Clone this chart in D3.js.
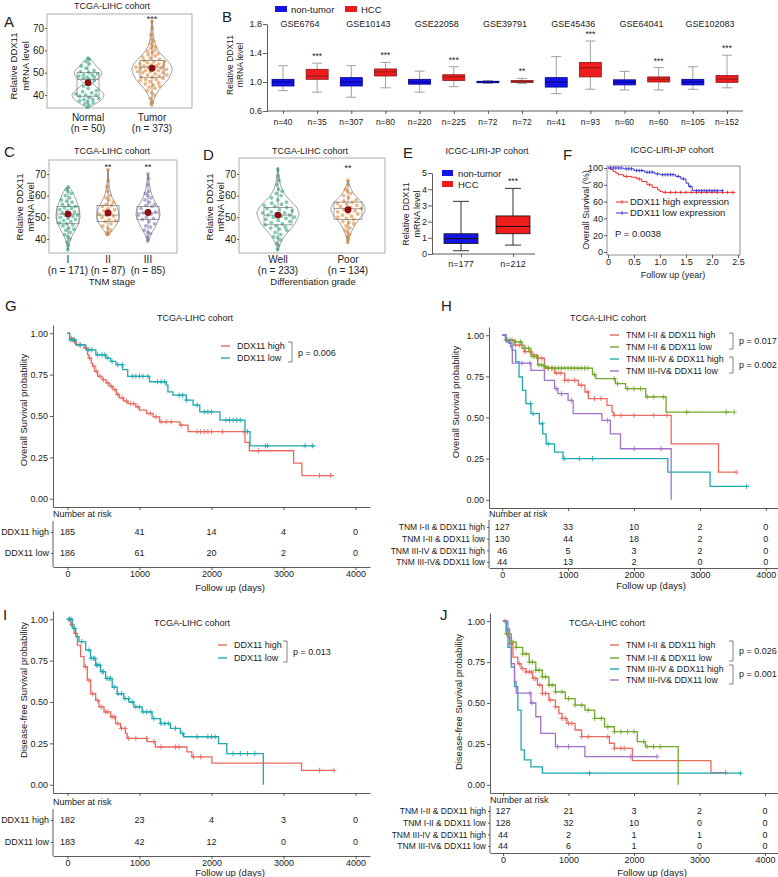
<!DOCTYPE html>
<html>
<head>
<meta charset="utf-8">
<script src="https://cdn.jsdelivr.net/npm/d3@7"></script>
<style>
  body { margin: 0; background: #fff; }
  text { font-family: "Liberation Sans", Arial, sans-serif; }
</style>
</head>
<body>
<svg id="fig" width="778" height="877"></svg>
<script>
const FONT = '"Liberation Sans", Arial, sans-serif'

// ---------- data: violin panels (A, C, D) ----------
// profiles are [value, relative density]
const aCats = ["Normal", "Tumor"]
const aN = [50, 373]
const aNormalVals = [34.5, 35.5, 36, 36.5, 37, 37.5, 38, 38, 38.5, 39, 39.5, 40, 40, 40.5, 41, 41.5, 42, 43, 44, 45, 46, 46.5, 47, 47.5, 48, 48, 48.5, 49, 49, 49.5, 50, 50.5, 51, 52, 53, 54, 55, 56, 56.5]
const aTumorVals = [36, 37, 38.5, 40, 41, 42, 43, 43.5, 44, 44.5, 45, 45.5, 46, 46.5, 47, 47, 47.5, 48, 48, 48.5, 49, 49, 49.5, 50, 50, 50.5, 50.5, 51, 51, 51.5, 51.5, 52, 52, 52.5, 52.5, 53, 53, 53.5, 53.5, 54, 54, 54.5, 55, 55, 55.5, 56, 56.5, 57, 57.5, 58, 58.5, 59, 59.5, 60, 61, 61.5, 62, 63, 64, 65, 67, 70, 73]
const aNormalProf = [[34.5, 0.05], [36, 0.45], [38, 0.85], [40, 1], [42, 0.8], [44, 0.45], [45.5, 0.3], [47, 0.55], [49, 0.85], [51, 0.8], [53, 0.5], [55, 0.3], [56.5, 0.05]]
const aTumorProf = [[35, 0.03], [38, 0.1], [41, 0.25], [44, 0.5], [47, 0.8], [50, 0.97], [52, 1], [54, 0.9], [57, 0.6], [60, 0.3], [63, 0.15], [67, 0.07], [71, 0.03], [73.5, 0.01]]
const aBoxes = [[35, 39.5, 47, 50, 56], [36, 48, 52.5, 55.5, 73]]   // lo, q1, median, q3, hi
const aMeans = [45.5, 52]

const cCats = ["I", "II", "III"]
const cN = [171, 87, 85]
const cStars = ["", "**", "**"]
const cVals = [
  [35, 37, 38.5, 40, 41, 42, 43, 44, 44.5, 45, 46, 46.5, 47, 47.5, 48, 48.5, 49, 49.5, 50, 50.5, 51, 51, 51.5, 52, 52.5, 53, 53.5, 54, 54.5, 55, 55.5, 56, 57, 57.5, 58, 59, 60, 61, 62, 63, 64],
  [42, 42.5, 43, 44, 45, 46, 47, 48, 48.5, 49, 50, 50.5, 51, 51.5, 52, 53, 53.5, 54, 55, 55.5, 56, 57, 58, 59, 60, 62, 64, 67, 72],
  [39, 40, 41, 42.5, 43, 44, 45.5, 46, 47, 48, 49, 49.5, 50, 51, 51.5, 52, 52.5, 53, 54, 55, 55.5, 56, 57, 58, 59, 60, 61, 62, 65, 68, 70]
]
const cProfs = [
  [[35, 0.03], [38, 0.12], [41, 0.3], [44, 0.6], [47, 0.85], [50, 1], [53, 0.95], [56, 0.8], [59, 0.6], [62, 0.35], [64, 0.05]],
  [[41.5, 0.03], [44, 0.4], [47, 0.8], [50, 1], [53, 0.95], [56, 0.7], [59, 0.4], [62, 0.2], [66, 0.08], [72, 0.02]],
  [[39, 0.03], [42, 0.25], [45, 0.55], [48, 0.8], [51, 1], [54, 0.9], [57, 0.6], [60, 0.35], [64, 0.15], [70, 0.02]]
]
const cBoxes = [[35, 47, 51.5, 55, 64], [42, 48, 51, 55.5, 72], [39, 49, 52, 55, 70]]
const cMeans = [51.5, 52, 52.2]

const dCats = ["Well", "Poor"]
const dN = [233, 134]
const dStars = ["", "**"]
const dVals = [
  [35, 37, 38, 39.5, 40.5, 41, 42, 43, 44, 44.5, 45, 45.5, 46, 46.5, 47, 47.5, 48, 48.5, 49, 49.5, 50, 50, 50.5, 51, 51, 51.5, 52, 52, 52.5, 53, 53.5, 54, 54.5, 55, 55.5, 56, 56.5, 57, 58, 59, 60, 61, 62, 63, 65, 67, 69, 72],
  [38.5, 40, 41, 42, 43, 44, 45, 46, 47, 47.5, 48, 49, 49.5, 50, 50.5, 51, 51.5, 52, 52.5, 53, 53.5, 54, 54.5, 55, 55.5, 56, 56.5, 57, 57.5, 58, 59, 60, 61, 62, 63, 65, 67]
]
const dProfs = [
  [[35, 0.03], [38, 0.12], [41, 0.3], [44, 0.55], [47, 0.8], [50, 0.95], [52, 1], [55, 0.85], [58, 0.55], [61, 0.3], [65, 0.12], [69, 0.05], [73, 0.01]],
  [[38, 0.02], [41, 0.1], [44, 0.25], [47, 0.45], [50, 0.75], [53, 1], [56, 0.9], [59, 0.55], [62, 0.25], [65, 0.08], [67, 0.02]]
]
const dBoxes = [[35, 46.5, 51, 54.5, 73], [39, 49, 54, 57, 67]]
const dMeans = [51, 53.5]

// ---------- data: box plots (B, E) ----------
const bSets = ["GSE6764", "GSE10143", "GSE22058", "GSE39791", "GSE45436", "GSE64041", "GSE102083"]
const bN = [[40, 35], [307, 80], [220, 225], [72, 72], [41, 93], [60, 60], [105, 152]]
const bNormal = [
  [0.88, 0.945, 1.0, 1.037, 1.225], [0.79, 0.945, 1.0, 1.06, 1.225], [0.86, 0.97, 1.0, 1.037, 1.15],
  [0.98, 0.99, 1.0, 1.01, 1.02], [0.84, 0.93, 1.0, 1.06, 1.35], [0.89, 0.96, 1.0, 1.03, 1.147],
  [0.90, 0.96, 1.0, 1.037, 1.21]
]
const bTumor = [
  [0.86, 1.037, 1.083, 1.175, 1.26], [0.92, 1.083, 1.14, 1.18, 1.27], [0.935, 1.02, 1.07, 1.10, 1.21],
  [0.98, 0.995, 1.005, 1.02, 1.05], [0.90, 1.07, 1.197, 1.27, 1.565], [0.89, 1.0, 1.04, 1.07, 1.20],
  [0.92, 0.995, 1.04, 1.09, 1.37]
]
const bStars = ["***", "***", "***", "**", "***", "***", "***"]

const eCats = ["non-tumor", "HCC"]
const eN = [177, 212]
const eBoxes = [[0.2, 0.65, 0.95, 1.25, 3.25], [0.55, 1.25, 1.7, 2.35, 4.05]]

// ---------- data: F (ICGC survival, years, %) ----------
const fHigh = [[0, 100], [0.05, 98], [0.1, 96], [0.15, 94], [0.2, 92], [0.3, 90], [0.45, 89], [0.55, 87], [0.65, 84], [0.75, 80], [0.85, 77], [0.95, 74], [1.0, 72], [1.05, 71], [2.45, 71]]
const fLow = [[0, 100], [0.3, 99], [0.5, 97], [0.7, 95], [0.9, 93], [1.0, 92], [1.3, 90], [1.4, 87], [1.5, 82], [1.55, 78], [1.62, 73], [2.22, 73]]
const fHighCens = [0.35, 0.6, 0.8, 1.1, 1.2, 1.3, 1.4, 1.5, 1.6, 1.7, 1.8, 1.9, 2.0, 2.1, 2.2, 2.3, 2.4]
const fLowCens = [0.05, 0.1, 0.15, 0.2, 0.25, 0.35, 0.4, 0.45, 0.55, 0.6, 0.65, 0.75, 0.8, 0.85, 0.95, 1.05, 1.1, 1.15, 1.2, 1.25, 1.35, 1.45, 1.58, 1.7, 1.75, 1.8, 1.85, 1.9, 1.95, 2.0, 2.05, 2.1, 2.2]

// ---------- data: Kaplan-Meier panels (days, probability) ----------
const gHigh = [[0, 1], [30, 0.97], [80, 0.95], [120, 0.93], [230, 0.91], [280, 0.87], [300, 0.85], [330, 0.82], [350, 0.80], [380, 0.77], [420, 0.74], [480, 0.72], [535, 0.70], [580, 0.68], [630, 0.66], [680, 0.63], [720, 0.61], [780, 0.59], [840, 0.575], [950, 0.555], [1000, 0.535], [1100, 0.515], [1190, 0.495], [1280, 0.465], [1560, 0.445], [1675, 0.405], [2465, 0.34], [2525, 0.29], [3140, 0.215], [3255, 0.14], [3700, 0.14]]
const gLow = [[0, 1], [30, 0.96], [116, 0.93], [256, 0.90], [395, 0.87], [535, 0.85], [600, 0.83], [674, 0.81], [767, 0.78], [837, 0.74], [1140, 0.707], [1372, 0.687], [1395, 0.646], [1465, 0.626], [1650, 0.596], [1744, 0.566], [1837, 0.525], [2116, 0.475], [2465, 0.405], [2535, 0.32], [3442, 0.32]]
const gHighCens = [60, 100, 160, 260, 310, 370, 400, 450, 500, 560, 610, 660, 700, 760, 820, 880, 920, 980, 1150, 1230, 1300, 1370, 1440, 1580, 1800, 1850, 1900, 1950, 2000, 2150, 2450, 2650, 3500, 3650]
const gLowCens = [50, 100, 180, 300, 340, 420, 480, 520, 560, 620, 700, 760, 900, 950, 1000, 1050, 1120, 1250, 1300, 1350, 1550, 1600, 1650, 1800, 1900, 1950, 2000, 2200, 2250, 2300, 2350, 2400, 2500, 2750, 2780, 3300, 3400]
const gRiskNames = ["DDX11 high", "DDX11 low"]
const gRisk = [[185, 41, 14, 4, 0], [186, 61, 20, 2, 0]]

const hNames = ["TNM I-II & DDX11 high", "TNM I-II & DDX11 low", "TNM III-IV & DDX11 high", "TNM III-IV& DDX11 low"]
const hHighEarly = [[0, 1], [50, 0.97], [180, 0.94], [333, 0.90], [450, 0.88], [538, 0.86], [640, 0.80], [795, 0.77], [949, 0.726], [1154, 0.696], [1256, 0.655], [1308, 0.615], [1590, 0.574], [1667, 0.533], [1692, 0.513], [2564, 0.34], [3282, 0.168], [3538, 0.168]]
const hLowEarly = [[0, 1], [50, 0.97], [180, 0.96], [300, 0.92], [436, 0.87], [538, 0.82], [640, 0.81], [692, 0.80], [1370, 0.76], [1421, 0.736], [1718, 0.706], [1872, 0.675], [2179, 0.625], [2487, 0.533], [3487, 0.533]]
const hHighLate = [[0, 1], [60, 0.97], [103, 0.95], [150, 0.91], [205, 0.84], [256, 0.746], [308, 0.665], [359, 0.584], [436, 0.523], [564, 0.462], [615, 0.40], [667, 0.34], [795, 0.29], [923, 0.25], [2513, 0.168], [3154, 0.081], [3744, 0.081]]
const hLowLate = [[0, 1], [60, 0.96], [128, 0.93], [154, 0.83], [436, 0.787], [641, 0.726], [795, 0.675], [846, 0.645], [1000, 0.604], [1077, 0.523], [1513, 0.483], [1641, 0.40], [1795, 0.31], [2564, 0]]
const hCens = [
  [80, 150, 200, 260, 350, 420, 480, 550, 600, 650, 700, 760, 820, 880, 950, 1000, 1100, 1200, 1300, 1400, 1500, 1700, 1800, 2000, 2300, 2500, 3550],
  [60, 120, 200, 280, 350, 400, 480, 520, 560, 600, 650, 700, 750, 800, 850, 900, 950, 1000, 1050, 1100, 1150, 1200, 1250, 1300, 1400, 1700, 1750, 1900, 2000, 2100, 2200, 2300, 2450, 2800, 3400, 3520],
  [430, 470, 610, 700, 940, 1170, 1370, 3705],
  [300, 420, 820, 900, 1050, 1600, 2005, 2411]
]
const hRisk = [[127, 33, 10, 2, 0], [130, 44, 18, 2, 0], [46, 5, 3, 2, 0], [44, 13, 2, 0, 0]]

const iHigh = [[0, 1], [46, 0.966], [92, 0.915], [138, 0.844], [184, 0.774], [230, 0.713], [276, 0.632], [322, 0.55], [392, 0.51], [438, 0.47], [507, 0.44], [599, 0.41], [668, 0.37], [737, 0.34], [806, 0.31], [830, 0.28], [1106, 0.26], [1221, 0.228], [1659, 0.198], [1728, 0.168], [2005, 0.131], [3249, 0.087], [3687, 0.087]]
const iLow = [[0, 1], [69, 0.945], [115, 0.895], [161, 0.865], [253, 0.814], [322, 0.764], [392, 0.723], [461, 0.683], [530, 0.642], [622, 0.59], [691, 0.55], [783, 0.52], [853, 0.50], [922, 0.47], [1037, 0.44], [1175, 0.40], [1290, 0.37], [1429, 0.34], [1567, 0.31], [1613, 0.29], [2097, 0.248], [2212, 0.188], [2719, 0]]
const iHighCens = [30, 60, 250, 300, 350, 420, 470, 530, 560, 620, 650, 700, 750, 800, 850, 950, 1100, 1200, 1300, 1500, 1550, 1750, 1850, 3500, 3700]
const iLowCens = [20, 50, 100, 200, 300, 330, 360, 380, 400, 420, 450, 480, 500, 550, 580, 600, 650, 700, 750, 800, 850, 900, 950, 1000, 1050, 1100, 1150, 1200, 1300, 1350, 1400, 1500, 1600, 1800, 1950, 2000, 2050, 2300, 2400, 2500, 2600]
const iRisk = [[182, 23, 4, 3, 0], [183, 42, 12, 0, 0]]

const jHighEarly = [[0, 1], [50, 0.953], [100, 0.862], [150, 0.78], [225, 0.74], [275, 0.71], [350, 0.69], [450, 0.65], [525, 0.61], [600, 0.558], [700, 0.517], [800, 0.477], [850, 0.436], [900, 0.406], [975, 0.375], [1100, 0.335], [1200, 0.294], [1625, 0.254], [1700, 0.223], [1975, 0.148], [3175, 0.075], [3425, 0.075]]
const jLowEarly = [[0, 1], [50, 0.923], [125, 0.872], [200, 0.84], [300, 0.80], [400, 0.75], [500, 0.70], [600, 0.66], [700, 0.61], [800, 0.568], [950, 0.527], [1100, 0.487], [1250, 0.456], [1400, 0.406], [1550, 0.355], [1700, 0.325], [2050, 0.264], [2175, 0.233], [2675, 0]]
const jHighLate = [[0, 1], [50, 0.943], [75, 0.84], [125, 0.72], [175, 0.60], [225, 0.456], [275, 0.213], [325, 0.152], [425, 0.11], [600, 0.071], [3625, 0.071]]
const jLowLate = [[0, 1], [75, 0.90], [125, 0.74], [175, 0.63], [200, 0.56], [425, 0.50], [500, 0.416], [575, 0.314], [800, 0.233], [1250, 0.172], [2350, 0.172]]
const jCens = [
  [30, 100, 250, 300, 350, 400, 430, 470, 500, 560, 600, 650, 720, 800, 900, 950, 1000, 1050, 1200, 1300, 1600, 1700, 1800, 1850, 3400],
  [50, 150, 200, 300, 350, 400, 450, 500, 550, 600, 650, 700, 750, 800, 900, 1000, 1100, 1200, 1300, 1400, 1500, 1600, 1700, 1800, 1900, 2000, 2150, 2200, 2300, 2400],
  [1320, 3630],
  [410, 440, 830, 1000, 1950, 2350]
]
const jRisk = [[127, 21, 3, 2, 0], [128, 32, 10, 0, 0], [44, 2, 1, 1, 0], [44, 6, 1, 0, 0]]

const kmTicks = [0, 1000, 2000, 3000, 4000]

// ---------- helpers ----------
const svg = d3.select("#fig")

function text(g, x, y, s, size, anchor, fill) {
  return g.append("text").attr("x", x).attr("y", y).attr("font-size", size)
    .attr("text-anchor", anchor || "start").attr("fill", fill || "#222").text(s)
}
function vtext(g, x, y, s, size) {
  return g.append("text").attr("transform", `translate(${x},${y}) rotate(-90)`)
    .attr("font-size", size).attr("text-anchor", "middle").attr("fill", "#222").text(s)
}
function styleAxis(sel, size) {
  sel.attr("font-family", FONT).attr("font-size", size)
  sel.selectAll("line,path").attr("stroke", "#333").attr("stroke-width", 0.8)
  sel.selectAll("text").attr("fill", "#222")
}
function densAt(prof, v) {
  for (let i = 0; i < prof.length - 1; i++) {
    if (v >= prof[i][0] && v <= prof[i + 1][0]) {
      const t = (v - prof[i][0]) / (prof[i + 1][0] - prof[i][0])
      return prof[i][1] + t * (prof[i + 1][1] - prof[i][1])
    }
  }
  return 0.05
}

// one violin + box + jittered points + mean
function drawViolin(g, cx, y, d) {
  const area = d3.area().curve(d3.curveCatmullRom)
    .y(p => y(p[0])).x0(p => cx - p[1] * d.hw).x1(p => cx + p[1] * d.hw)
  g.append("path").attr("d", area(d.prof)).attr("fill", "none")
    .attr("stroke", "#777").attr("stroke-width", 0.7)
  d.vals.forEach((v, i) => {
    const j = ((i * 0.618034) % 1) * 2 - 1
    g.append("circle").attr("cx", cx + j * densAt(d.prof, v) * d.hw * 0.85).attr("cy", y(v))
      .attr("r", 1.9).attr("fill", d.color).attr("fill-opacity", 0.55)
  })
  const b = d.box
  g.append("line").attr("x1", cx).attr("x2", cx).attr("y1", y(b[0])).attr("y2", y(b[1])).attr("stroke", "#666").attr("stroke-width", 0.6)
  g.append("line").attr("x1", cx).attr("x2", cx).attr("y1", y(b[3])).attr("y2", y(b[4])).attr("stroke", "#666").attr("stroke-width", 0.6)
  g.append("rect").attr("x", cx - d.bw).attr("y", y(b[3])).attr("width", 2 * d.bw).attr("height", y(b[1]) - y(b[3]))
    .attr("fill", "none").attr("stroke", "#666").attr("stroke-width", 0.6)
  g.append("line").attr("x1", cx - d.bw).attr("x2", cx + d.bw).attr("y1", y(b[2])).attr("y2", y(b[2])).attr("stroke", "#666").attr("stroke-width", 0.6)
  g.append("circle").attr("cx", cx).attr("cy", y(d.mean)).attr("r", 3.4).attr("fill", "#8b1010")
}

function violinPanel(p) {
  const g = svg.append("g")
  const [x0, y0, x1, y1] = p.frame
  g.append("rect").attr("x", x0).attr("y", y0).attr("width", x1 - x0).attr("height", y1 - y0)
    .attr("fill", "none").attr("stroke", "#999").attr("stroke-width", 0.8)
  const ax = g.append("g").attr("transform", `translate(${x0},0)`)
    .call(d3.axisLeft(p.y).tickValues([40, 50, 60, 70]).tickSize(2).tickPadding(1))
  ax.select(".domain").remove()
  styleAxis(ax, 10)
  p.groups.forEach(d => {
    const cx = p.x(d.cat)
    drawViolin(g, cx, p.y, d)
    text(g, cx, p.labelY, d.cat, 10, "middle")
    text(g, cx, p.labelY + 11, `(n = ${d.n})`, 10, "middle")
    if (d.star) text(g, cx, p.starY, d.star, 9, "middle")
  })
  text(g, p.title[0], p.title[1], p.title[2], 9, "middle")
  text(g, p.letter[1], p.letter[2], p.letter[0], 15)
  vtext(g, p.ylab[0], p.ylab[2], "Relative DDX11", 9.5)
  vtext(g, p.ylab[1], p.ylab[2], "mRNA level", 9.5)
  return g
}

function boxPlot(g, cx, y, st, fill, dark, hw, whisk, cap) {
  g.append("line").attr("x1", cx).attr("x2", cx).attr("y1", y(st[0])).attr("y2", y(st[4])).attr("stroke", whisk).attr("stroke-width", 1)
  ;[st[0], st[4]].forEach(v => g.append("line").attr("x1", cx - cap).attr("x2", cx + cap)
    .attr("y1", y(v)).attr("y2", y(v)).attr("stroke", whisk).attr("stroke-width", 1))
  g.append("rect").attr("x", cx - hw).attr("y", y(st[3])).attr("width", 2 * hw)
    .attr("height", Math.max(1, y(st[1]) - y(st[3]))).attr("fill", fill).attr("stroke", dark).attr("stroke-width", 0.8)
  g.append("line").attr("x1", cx - hw).attr("x2", cx + hw).attr("y1", y(st[2])).attr("y2", y(st[2])).attr("stroke", dark).attr("stroke-width", 1)
}

function stepAt(data, t) {
  let s = data[0][1]
  data.forEach(d => { if (d[0] <= t) s = d[1] })
  return s
}

// Kaplan-Meier panel with its risk table
function kmPanel(c) {
  const g = svg.append("g")
  const x = d3.scaleLinear().domain([-200, 4200]).range([c.left, c.right])
  const y = d3.scaleLinear().domain([-0.05, 1.05]).range([c.bottom, c.top])
  const ay = g.append("g").attr("transform", `translate(${c.left},0)`)
    .call(d3.axisLeft(y).tickValues([0, 0.25, 0.5, 0.75, 1]).tickFormat(d3.format(".2f")).tickSize(3).tickSizeOuter(0).tickPadding(2))
  styleAxis(ay, 9)
  const axb = g.append("g").attr("transform", `translate(0,${c.bottom})`)
    .call(d3.axisBottom(x).tickValues(kmTicks).tickFormat("").tickSize(3).tickSizeOuter(0))
  styleAxis(axb, 9)

  const line = d3.line().curve(d3.curveStepAfter).x(d => x(d[0])).y(d => y(d[1]))
  c.curves.forEach(cv => {
    g.append("path").attr("d", line(cv.data)).attr("fill", "none").attr("stroke", cv.color).attr("stroke-width", 1.3)
    cv.cens.forEach(t => {
      g.append("path").attr("transform", `translate(${x(t)},${y(stepAt(cv.data, t))})`)
        .attr("d", "M-2.6,0H2.6M0,-2.6V2.6").attr("stroke", cv.color).attr("stroke-width", 0.9)
    })
  })

  text(g, c.title[0], c.title[1], "TCGA-LIHC cohort", 9, "middle")
  text(g, c.letter[1], c.letter[2], c.letter[0], 15)
  vtext(g, c.ylab[1], c.ylab[2], c.ylab[0], 9.5)

  // legend
  c.curves.forEach((cv, i) => {
    const ly = c.legend.ys[i]
    g.append("line").attr("x1", c.legend.x).attr("x2", c.legend.x + 9).attr("y1", ly).attr("y2", ly).attr("stroke", cv.color).attr("stroke-width", 1.4)
    text(g, c.legend.x + 16, ly + 3.3, cv.name, c.legend.size)
  })
  c.brackets.forEach(b => {
    g.append("path").attr("d", `M${b.x - 4},${b.y1}H${b.x}V${b.y2}H${b.x - 4}`).attr("fill", "none").attr("stroke", "#666").attr("stroke-width", 0.8)
    text(g, b.x + 6, b.py, b.p, 9)
  })

  // risk table
  const r = c.risk
  text(g, c.left, r.labelY, "Number at risk", 9)
  const yr = d3.scalePoint().domain(r.names).range([r.rows[0], r.rows[r.rows.length - 1]])
  g.append("line").attr("x1", c.left).attr("x2", c.left).attr("y1", r.top).attr("y2", r.bottom).attr("stroke", "#333").attr("stroke-width", 0.8)
  const ar = g.append("g").attr("transform", `translate(${c.left},0)`)
    .call(d3.axisLeft(yr).tickSize(2).tickPadding(2))
  ar.select(".domain").remove()
  styleAxis(ar, r.size)
  r.names.forEach((nm, i) => {
    r.values[i].forEach((v, k) => text(g, x(kmTicks[k]), yr(nm) + 3.3, v, 9, "middle"))
  })
  const arb = g.append("g").attr("transform", `translate(0,${r.bottom})`)
    .call(d3.axisBottom(x).tickValues(kmTicks).tickFormat(d3.format("d")).tickSize(3).tickSizeOuter(0).tickPadding(1))
  styleAxis(arb, 9)
  text(g, c.xTitle[0], c.xTitle[1], "Follow up (days)", 9.5, "middle")
  return g
}

// ---------- Panel A ----------
const yA = d3.scaleLinear().domain([34.2, 76.3]).range([108, 14])
const xA = d3.scalePoint().domain(aCats).range([88, 152])
violinPanel({
  frame: [47, 14, 192, 108], y: yA, x: xA, labelY: 121, starY: 22,
  title: [112, 9, "TCGA-LIHC cohort"], letter: ["A", 4, 27], ylab: [17, 29, 66],
  groups: [
    { cat: aCats[0], n: aN[0], vals: aNormalVals, prof: aNormalProf, box: aBoxes[0], mean: aMeans[0], color: "#1b9e77", hw: 16, bw: 11 },
    { cat: aCats[1], n: aN[1], vals: aTumorVals, prof: aTumorProf, box: aBoxes[1], mean: aMeans[1], color: "#e07b1f", hw: 20, bw: 12, star: "***" }
  ]
})

// ---------- Panel C ----------
const yC = d3.scaleLinear().domain([33.5, 76]).range([253, 161])
const xC = d3.scalePoint().domain(cCats).range([68, 148])
const cColors = ["#1b9e77", "#e07b1f", "#7570b3"]
const cHw = [12, 11, 12]
violinPanel({
  frame: [49, 160, 177, 253], y: yC, x: xC, labelY: 263, starY: 170,
  title: [112, 154, "TCGA-LIHC cohort"], letter: ["C", 4, 157], ylab: [23, 34, 207],
  groups: cCats.map((c, i) => ({ cat: c, n: cN[i], vals: cVals[i], prof: cProfs[i], box: cBoxes[i], mean: cMeans[i], color: cColors[i], hw: cHw[i], bw: 11, star: cStars[i] }))
})
text(svg, 112, 285, "TNM stage", 9.5, "middle")

// ---------- Panel D ----------
const yD = d3.scaleLinear().domain([33.5, 76.9]).range([253, 159])
const xD = d3.scalePoint().domain(dCats).range([278, 348])
const dColors = ["#1b9e77", "#e07b1f"]
const dHw = [21, 17]
violinPanel({
  frame: [239, 158, 385, 253], y: yD, x: xD, labelY: 263, starY: 171,
  title: [310, 154, "TCGA-LIHC cohort"], letter: ["D", 203, 160], ylab: [213, 224, 207],
  groups: dCats.map((c, i) => ({ cat: c, n: dN[i], vals: dVals[i], prof: dProfs[i], box: dBoxes[i], mean: dMeans[i], color: dColors[i], hw: dHw[i], bw: 14, star: dStars[i] }))
})
text(svg, 313, 285, "Differentiation grade", 9.5, "middle")

// ---------- Panel B ----------
const gB = svg.append("g")
const yB = d3.scaleLinear().domain([0.6, 1.8]).range([111, 24])
const bKeys = bSets.flatMap(s => [s + ":N", s + ":T"])
const xB = d3.scalePoint().domain(bKeys).range([283, 727])
const axB = gB.append("g").attr("transform", "translate(267,0)")
  .call(d3.axisLeft(yB).tickValues([0.6, 1.0, 1.4, 1.8]).tickFormat(d3.format(".1f")).tickSize(4).tickSizeOuter(0).tickPadding(1))
styleAxis(axB, 9)
const axBb = gB.append("g").attr("transform", "translate(0,111)")
  .call(d3.axisBottom(xB).tickFormat("").tickSize(3).tickSizeOuter(0))
axBb.select(".domain").remove()
styleAxis(axBb, 9)
gB.append("line").attr("x1", 267).attr("x2", 743).attr("y1", 111).attr("y2", 111).attr("stroke", "#333").attr("stroke-width", 0.8)
bSets.forEach((s, i) => {
  const xn = xB(s + ":N"), xt = xB(s + ":T")
  boxPlot(gB, xn, yB, bNormal[i], "#1414e6", "#00008b", 11, "#a0a0a0", 5)
  boxPlot(gB, xt, yB, bTumor[i], "#ee1c1c", "#8b1a1a", 11, "#a0a0a0", 5)
  text(gB, (xn + xt) / 2, 27, s, 9, "middle")
  text(gB, xn, 125, "n=" + bN[i][0], 8.5, "middle")
  text(gB, xt, 125, "n=" + bN[i][1], 8.5, "middle")
  text(gB, xt, yB(bTumor[i][4]) - 4, bStars[i], 8.5, "middle")
})
gB.append("rect").attr("x", 275).attr("y", 6).attr("width", 12).attr("height", 6).attr("fill", "#1414e6")
text(gB, 291, 12.5, "non-tumor", 9.5)
gB.append("rect").attr("x", 345).attr("y", 6).attr("width", 12).attr("height", 6).attr("fill", "#ee1c1c")
text(gB, 361, 12.5, "HCC", 9.5)
text(gB, 222, 22, "B", 15)
vtext(gB, 233, 65, "Relative DDX11", 8.5)
vtext(gB, 243, 65, "mRNA level", 8.5)

// ---------- Panel E ----------
const gE = svg.append("g")
const yE = d3.scaleLinear().domain([0, 5]).range([254, 173])
const xE = d3.scalePoint().domain(eCats).range([461, 513])
const axE = gE.append("g").attr("transform", "translate(432,0)")
  .call(d3.axisLeft(yE).ticks(5).tickSize(4).tickSizeOuter(0).tickPadding(1))
styleAxis(axE, 9)
const axEb = gE.append("g").attr("transform", "translate(0,254)")
  .call(d3.axisBottom(xE).tickFormat("").tickSize(3).tickSizeOuter(0))
axEb.select(".domain").remove()
styleAxis(axEb, 9)
gE.append("line").attr("x1", 432).attr("x2", 535).attr("y1", 254).attr("y2", 254).attr("stroke", "#333").attr("stroke-width", 0.8)
boxPlot(gE, xE(eCats[0]), yE, eBoxes[0], "#1414e6", "#111", 17, "#333", 8)
boxPlot(gE, xE(eCats[1]), yE, eBoxes[1], "#ee1c1c", "#111", 17, "#333", 8)
eCats.forEach((c, i) => text(gE, xE(c), 267, "n=" + eN[i], 9, "middle"))
text(gE, xE(eCats[1]), yE(eBoxes[1][4]) - 4, "***", 8.5, "middle")
gE.append("rect").attr("x", 442).attr("y", 170).attr("width", 11).attr("height", 6).attr("fill", "#1414e6")
text(gE, 458, 176.5, "non-tumor", 9.5)
gE.append("rect").attr("x", 442).attr("y", 181).attr("width", 11).attr("height", 6).attr("fill", "#ee1c1c")
text(gE, 458, 187.5, "HCC", 9.5)
text(gE, 487, 154, "ICGC-LIRI-JP cohort", 9, "middle")
text(gE, 403, 158, "E", 15)
vtext(gE, 409, 214, "Relative DDX11", 9)
vtext(gE, 420, 214, "mRNA level", 9)

// ---------- Panel F ----------
const gF = svg.append("g")
const xF = d3.scaleLinear().domain([0, 2.5]).range([608, 738])
const yF = d3.scaleLinear().domain([0, 100]).range([252, 168])
gF.append("rect").attr("x", 607).attr("y", 166).attr("width", 133).attr("height", 89)
  .attr("fill", "none").attr("stroke", "#777").attr("stroke-width", 0.8)
const axF = gF.append("g").attr("transform", "translate(607,0)")
  .call(d3.axisLeft(yF).tickValues([0, 20, 40, 60, 80, 100]).tickSize(3).tickPadding(1))
axF.select(".domain").remove()
styleAxis(axF, 9)
const axFb = gF.append("g").attr("transform", "translate(0,255)")
  .call(d3.axisBottom(xF).tickValues([0, 0.5, 1, 1.5, 2, 2.5]).tickFormat(d => d === 0 ? "0" : d.toFixed(1)).tickSize(3).tickPadding(1))
axFb.select(".domain").remove()
styleAxis(axFb, 9)
const lineF = d3.line().curve(d3.curveStepAfter).x(d => xF(d[0])).y(d => yF(d[1]))
;[[fHigh, fHighCens, "#ee2a2a"], [fLow, fLowCens, "#3535d8"]].forEach(([data, cens, col]) => {
  gF.append("path").attr("d", lineF(data)).attr("fill", "none").attr("stroke", col).attr("stroke-width", 1)
  cens.forEach(t => gF.append("line").attr("x1", xF(t)).attr("x2", xF(t))
    .attr("y1", yF(stepAt(data, t)) - 1.8).attr("y2", yF(stepAt(data, t)) + 1.8).attr("stroke", col).attr("stroke-width", 0.9))
})
;[["DDX11 high expression", "#ee2a2a", 202], ["DDX11 low expression", "#3535d8", 213]].forEach(([s, col, ly]) => {
  gF.append("line").attr("x1", 616).attr("x2", 628).attr("y1", ly).attr("y2", ly).attr("stroke", col).attr("stroke-width", 1)
  gF.append("line").attr("x1", 622).attr("x2", 622).attr("y1", ly - 1.8).attr("y2", ly + 1.8).attr("stroke", col).attr("stroke-width", 0.9)
  text(gF, 630, ly + 3.3, s, 9.5)
})
text(gF, 615, 237, "P = 0.0038", 9.5)
text(gF, 673, 278, "Follow up (year)", 9, "middle")
text(gF, 672, 153, "ICGC-LIRI-JP cohort", 9, "middle")
text(gF, 563, 160, "F", 15)
vtext(gF, 589, 210, "Overall Survival (%)", 9)

// ---------- Panels G-J ----------
const red = "#ea6a60", teal = "#1fa9b0", green = "#72a928", purple = "#a373cc"

kmPanel({
  left: 53, right: 370, top: 325, bottom: 507,
  title: [195, 321], letter: ["G", 5, 311], ylab: ["Overall Survival probability", 27, 410],
  curves: [
    { data: gHigh, cens: gHighCens, color: red, name: "DDX11 high" },
    { data: gLow, cens: gLowCens, color: teal, name: "DDX11 low" }
  ],
  legend: { x: 221, ys: [346, 358], size: 9 },
  brackets: [{ x: 292, y1: 342, y2: 362, p: "p = 0.006", py: 356 }],
  risk: { labelY: 517, top: 521, bottom: 567, rows: [532, 553], names: gRiskNames, values: gRisk, size: 9 },
  xTitle: [230, 591]
})

kmPanel({
  left: 489, right: 779, top: 327, bottom: 508,
  title: [608, 321], letter: ["H", 441, 311], ylab: ["Overall Survival probability", 459, 402],
  curves: [
    { data: hHighEarly, cens: hCens[0], color: red, name: hNames[0] },
    { data: hLowEarly, cens: hCens[1], color: green, name: hNames[1] },
    { data: hHighLate, cens: hCens[2], color: teal, name: hNames[2] },
    { data: hLowLate, cens: hCens[3], color: purple, name: hNames[3] }
  ],
  legend: { x: 610, ys: [335, 347, 359, 371], size: 8.8 },
  brackets: [{ x: 733, y1: 333, y2: 349, p: "p = 0.017", py: 344 }, { x: 733, y1: 357, y2: 373, p: "p = 0.002", py: 368 }],
  risk: { labelY: 517, top: 520, bottom: 568, rows: [527, 539, 551, 562], names: hNames, values: hRisk, size: 8.5 },
  xTitle: [651, 589]
})

kmPanel({
  left: 53, right: 370, top: 611, bottom: 793,
  title: [192, 626], letter: ["I", 3, 620], ylab: ["Disease-free Survival probability", 27, 690],
  curves: [
    { data: iHigh, cens: iHighCens, color: red, name: "DDX11 high" },
    { data: iLow, cens: iLowCens, color: teal, name: "DDX11 low" }
  ],
  legend: { x: 218, ys: [645, 658], size: 9 },
  brackets: [{ x: 287, y1: 641, y2: 662, p: "p = 0.013", py: 655 }],
  risk: { labelY: 805, top: 809, bottom: 856, rows: [820, 842], names: gRiskNames, values: iRisk, size: 9 },
  xTitle: [230, 876]
})

kmPanel({
  left: 490, right: 778, top: 613, bottom: 793,
  title: [607, 626], letter: ["J", 440, 620], ylab: ["Disease-free Survival probability", 462, 702],
  curves: [
    { data: jHighEarly, cens: jCens[0], color: red, name: hNames[0] },
    { data: jLowEarly, cens: jCens[1], color: green, name: hNames[1] },
    { data: jHighLate, cens: jCens[2], color: teal, name: hNames[2] },
    { data: jLowLate, cens: jCens[3], color: purple, name: hNames[3] }
  ],
  legend: { x: 610, ys: [645, 658, 669, 680], size: 8.8 },
  brackets: [{ x: 733, y1: 641, y2: 661, p: "p = 0.026", py: 654 }, { x: 733, y1: 665, y2: 684, p: "p = 0.001", py: 677 }],
  risk: { labelY: 803, top: 806, bottom: 853, rows: [811, 823, 835, 846], names: hNames, values: jRisk, size: 8.5 },
  xTitle: [652, 876]
})
</script>
</body>
</html>
